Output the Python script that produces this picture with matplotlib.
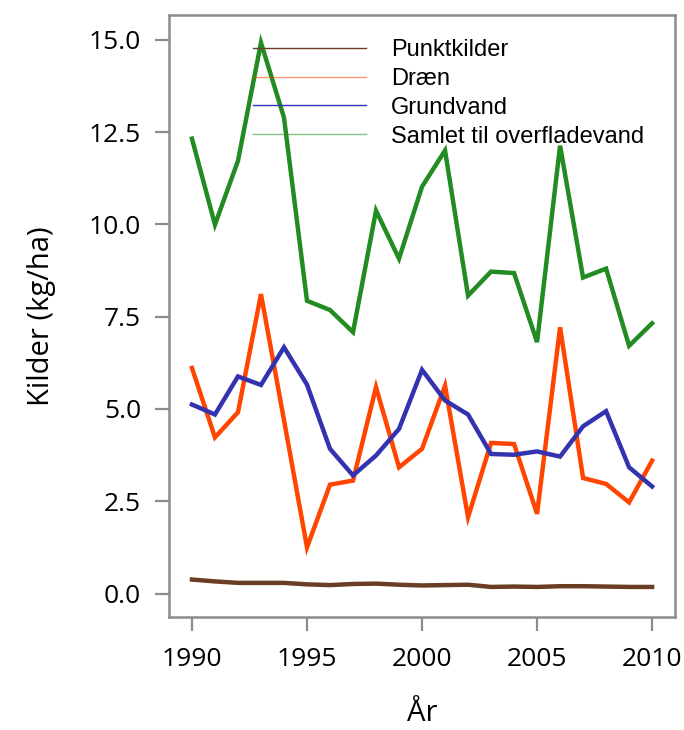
import matplotlib.pyplot as plt
from matplotlib.lines import Line2D

years = list(range(1990, 2011))

punktkilder = [0.38, 0.33, 0.29, 0.29, 0.29, 0.25, 0.23, 0.26, 0.27, 0.24, 0.22,
               0.23, 0.24, 0.18, 0.19, 0.18, 0.20, 0.20, 0.19, 0.18, 0.18]
draen = [6.11, 4.23, 4.91, 8.11, 4.70, 1.25, 2.95, 3.06, 5.59, 3.42, 3.92,
         5.63, 2.07, 4.08, 4.05, 2.16, 7.21, 3.13, 2.97, 2.47, 3.60]
grundvand = [5.12, 4.85, 5.88, 5.65, 6.67, 5.66, 3.92, 3.20, 3.74, 4.46, 6.06,
             5.23, 4.85, 3.78, 3.76, 3.85, 3.71, 4.53, 4.94, 3.42, 2.90]
samlet = [12.32, 9.99, 11.72, 14.92, 12.89, 7.93, 7.68, 7.08, 10.37, 9.07, 11.02,
          12.00, 8.07, 8.72, 8.68, 6.81, 12.13, 8.56, 8.80, 6.71, 7.32]

labels = ["Punktkilder", "Dræn", "Grundvand", "Samlet til overfladevand"]
colors = ["#6b3d25", "#ff4500", "#3333b0", "#228b22"]

plt.rcParams['font.family'] = ['Open Sans', 'DejaVu Sans']

fig = plt.figure(figsize=(6.84, 7.3), dpi=100)
ax = fig.add_axes([0.247, 0.155, 0.740, 0.824])

for vals, c in zip([samlet, draen, grundvand, punktkilder], [colors[3], colors[1], colors[2], colors[0]]):
    ax.plot(years, vals, color=c, lw=3.2, solid_joinstyle='miter')

ax.set_xlim(1989, 2011)
ax.set_ylim(-0.63, 15.66)
ax.set_xticks([1990, 1995, 2000, 2005, 2010])
ax.set_yticks([0, 2.5, 5, 7.5, 10, 12.5, 15])
ax.set_yticklabels(["0.0", "2.5", "5.0", "7.5", "10.0", "12.5", "15.0"])

for s in ax.spines.values():
    s.set_color("#8c8c8c")
    s.set_linewidth(1.8)
ax.tick_params(direction='out', length=10, width=1.6, color="#8c8c8c",
               labelsize=19)
ax.tick_params(axis='y', pad=10)
ax.tick_params(axis='x', pad=12)

ax.set_xlabel("År", fontsize=21, labelpad=19)
ax.set_ylabel("Kilder (kg/ha)", fontsize=21, labelpad=24)

handles = [
    Line2D([], [], color=colors[0], lw=1.0),
    Line2D([], [], color=colors[1], lw=1.0, alpha=0.55),
    Line2D([], [], color=colors[2], lw=1.0),
    Line2D([], [], color=colors[3], lw=1.0, alpha=0.55),
]
leg = ax.legend(handles, labels, loc='upper left', bbox_to_anchor=(0.124, 0.996),
                frameon=False, handlelength=4.8, handletextpad=1.06, labelspacing=0.29,
                prop={'family': 'Liberation Sans', 'size': 17})

fig.savefig("out.png", dpi=100)
